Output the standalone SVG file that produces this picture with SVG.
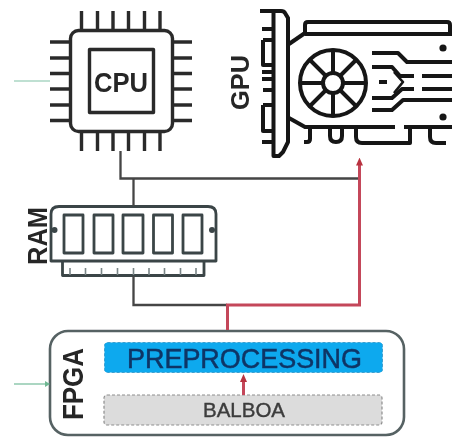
<svg xmlns="http://www.w3.org/2000/svg" width="452" height="438" viewBox="0 0 452 438">
<defs>
<filter id="soft" x="-5%" y="-5%" width="110%" height="110%"><feGaussianBlur stdDeviation="0.6"/></filter>
<marker id="redArrow" markerWidth="8" markerHeight="8" refX="4" refY="4" orient="auto-start-reverse" markerUnits="userSpaceOnUse"><path d="M0 0.500L8 4L0 7.500Z" fill="#b8323f"/></marker>
<marker id="greenArrow" markerWidth="5" markerHeight="7" refX="4" refY="3.500" orient="auto" markerUnits="userSpaceOnUse"><path d="M0 0.500L5 3.500L0 6.500Z" fill="#6fb893"/></marker>
</defs>
<style>
.ic{fill:none;stroke:#2b2b2b;stroke-width:3.400;stroke-linejoin:round}
.icn{fill:none;stroke:#3a4547;stroke-width:2.800;stroke-linejoin:round}
.gpu{fill:none;stroke:#141414;stroke-width:4;stroke-linejoin:round}
.k{fill:none;stroke:#444;stroke-width:2.300}
.r{fill:none;stroke:#c4465a;stroke-width:3}
text{font-family:"Liberation Sans",Arial,sans-serif}
.lb{font-weight:700;fill:#262626}
</style>
<rect width="452" height="438" fill="#fff"/>
<g filter="url(#soft)">
<g id="cpu">
<rect class="ic" x="70.500" y="30.500" width="102" height="101" rx="8"/>
<rect class="ic" x="89.500" y="49.500" width="64" height="63"/>
<path class="ic" d="M81.500 11V30M97.500 11V30M113 11V30M128.500 11V30M144.500 11V30M160 11V30M81.500 132V151M97.500 132V151M113 132V151M128.500 132V151M144.500 132V151M160 132V151M50 42H70M50 58H70M50 73.500H70M50 89H70M50 105H70M50 120.500H70M173 42H192M173 58H192M173 73.500H192M173 89H192M173 105H192M173 120.500H192"/>
<text class="lb" x="121" y="92" font-size="27" text-anchor="middle" textLength="54" lengthAdjust="spacingAndGlyphs">CPU</text>
</g>
<g id="gpu">
<g class="gpu">
<path d="M260 11H281Q284 11 285 13L288 18V142L283 152L279 156H273.500V11"/>
<path d="M262 29H273M263 40H273M263 40V65H273M262 72H273M262 79H273M263 90H273M263 105H273M263 105V131H273M262 142H273"/>
<path d="M289 44L305 33V25Q305 22 308 22H447Q450 22 450 25V34H305M305 34H452"/>
<path d="M289 118L305 127H395M404 127H452"/>
<path d="M304 142H307Q310 142 310 139V127M330 127V136Q330 142 336 142Q342 142 342 136V127M356 127V137Q356 143 362 143H410V127M430 127V137Q430 143 436 143H446"/>
<circle cx="333" cy="83" r="33"/>
<circle cx="333" cy="83" r="10"/>
<path d="M333 50V73M333 93V116M300 83H323M343 83H366M310 60L326 76M340 90L356 106M356 60L340 76M326 90L310 106"/>
<path d="M372 53H398L407 62H452M372 67H392L400 76H414M422 76H452M379 82H387M372 98H392L402 89H414M422 89H452M372 110H392L403 100H452"/>
<path d="M394 72L403 82L394 93" stroke-width="2.600"/>
</g>
<circle cx="443" cy="48" r="3.600" fill="#141414"/>
<circle cx="443" cy="117" r="3.600" fill="#141414"/>
<text class="lb" transform="translate(249,110) rotate(-90)" font-size="25" textLength="55" lengthAdjust="spacingAndGlyphs">GPU</text>
</g>
<g id="ram">
<path class="icn" d="M51 261V214Q51 206.500 59 206.500H208Q216 206.500 216 214V261Z"/>
<circle cx="54.500" cy="230" r="3" fill="#3a4547"/>
<circle cx="212" cy="230" r="3" fill="#3a4547"/>
<rect class="icn" x="64" y="215" width="19" height="38"/>
<rect class="icn" x="94" y="215" width="19" height="38"/>
<rect class="icn" x="123" y="215" width="20" height="38"/>
<rect class="icn" x="153.500" y="215" width="19" height="38"/>
<rect class="icn" x="183" y="215" width="19" height="38"/>
<path class="icn" d="M62.500 262V275.500H204V262"/>
<path d="M70 268V275M85.500 268V275M101.500 268V275M117.500 268V275M133.500 268V275M149 268V275M164.500 268V275M180.500 268V275M196 268V275" fill="none" stroke="#7a8587" stroke-width="1.600"/>
<text class="lb" transform="translate(47,265) rotate(-90)" font-size="28" textLength="58" lengthAdjust="spacingAndGlyphs">RAM</text>
</g>
<g id="fpga">
<rect x="50" y="331" width="354" height="104" rx="18" fill="#fff" stroke="#566264" stroke-width="2.600"/>
<text class="lb" transform="translate(83,420) rotate(-90)" font-size="29" textLength="72" lengthAdjust="spacingAndGlyphs">FPGA</text>
</g>
<g id="preprocessing">
<rect x="104.500" y="342.500" width="278" height="30" rx="3" fill="#08a9ee" stroke="#3d9fd0" stroke-width="1" stroke-dasharray="3 2"/>
<text x="244.500" y="368" font-size="28" text-anchor="middle" fill="#0a3566" stroke="#0a3566" stroke-width="0.500" textLength="235" lengthAdjust="spacingAndGlyphs">PREPROCESSING</text>
</g>
<g id="balboa">
<rect x="104" y="395" width="278" height="30" rx="3" fill="#dcdcdc" stroke="#8e8e8e" stroke-width="1.200" stroke-dasharray="3 2"/>
<text x="244" y="417" font-size="20" text-anchor="middle" fill="#3c3c3c" stroke="#3c3c3c" stroke-width="0.400" textLength="82" lengthAdjust="spacingAndGlyphs">BALBOA</text>
</g>
<g id="connectors">
<path d="M14 81H50" fill="none" stroke="#bfe0d2" stroke-width="1.800"/>
<path d="M14 384H49" fill="none" stroke="#8fc9ae" stroke-width="1.600" marker-end="url(#greenArrow)"/>
<path class="k" d="M120.500 151V178.500H358"/>
<path class="k" d="M133.500 178V206"/>
<path class="k" d="M133.500 276V305H227"/>
<path class="r" d="M227.500 330V305H359.500V161.500" marker-end="url(#redArrow)"/>
<path class="r" d="M243.500 395V378" stroke-width="2.400" marker-end="url(#redArrow)"/>
</g>
</g>
</svg>
